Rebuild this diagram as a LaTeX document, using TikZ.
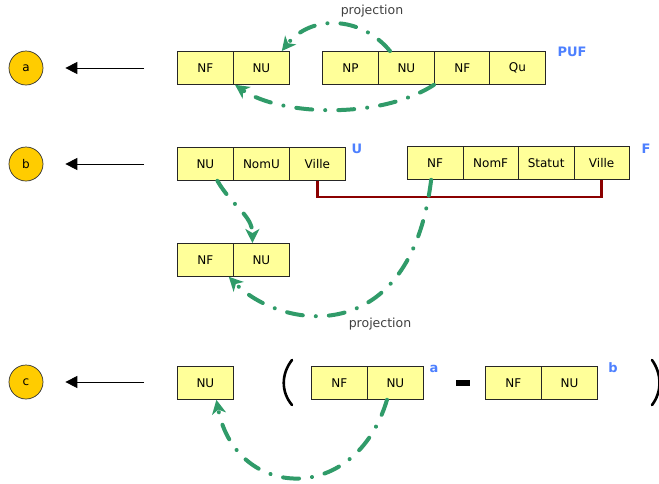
\documentclass[tikz,border=0pt]{standalone}
\usepackage{fontspec}
\setmainfont{DejaVu Sans}
\usetikzlibrary{arrows.meta}
\definecolor{cellyellow}{RGB}{255,255,153}
\definecolor{circgold}{RGB}{255,204,0}
\definecolor{lblblue}{RGB}{77,128,255}
\definecolor{projgreen}{RGB}{48,155,105}
\definecolor{joinred}{RGB}{139,0,0}
\tikzset{
  cell/.style={draw=black!85, line width=0.8pt, fill=cellyellow, minimum width=56pt, minimum height=33pt, inner sep=0pt, anchor=north west, font=\fontsize{12}{14}\selectfont},
  tag/.style={circle, draw=black!80, line width=0.7pt, fill=circgold, minimum size=34pt, inner sep=0pt, font=\fontsize{12}{14}\selectfont},
  lbl/.style={text=lblblue, font=\bfseries\fontsize{13}{15}\selectfont, inner sep=0pt},
  projlbl/.style={text=black!75, font=\fontsize{12.5}{14}\selectfont, inner sep=0pt},
  pointer/.style={line width=0.9pt, -{Triangle[length=12pt,width=12pt]}, shorten >=22pt},
  proj/.style={projgreen, line width=4pt, line cap=round, dash pattern=on 16pt off 13pt on 0.1pt off 13pt, -{Stealth[length=14pt,width=14pt,inset=4pt]}},
  joinline/.style={joinred, line width=2.5pt},
  paren/.style={line width=2.6pt, line cap=round}
}
\begin{document}
\begin{tikzpicture}[x=1pt,y=-1pt]
\useasboundingbox (0,0) rectangle (659,483);
% row a
\node[tag] (ta) at (26,68) {a};
\coordinate (sa) at (144,68);
\draw[pointer] (sa) -- (ta);
\node[cell] (a1) at (177,51) {NF};
\node[cell] (a2) at (233,51) {NU};
\node[cell] (ap) at (322,51) {NP};
\node[cell] (au) at (378,51) {NU};
\node[cell] (af) at (434,51) {NF};
\node[cell] (aq) at (489,51) {Qu};
\node[lbl] (puf) at (572,52) {PUF};
\node[projlbl] (pa) at (372,11) {projection};
\draw[proj] ([xshift=12pt]au.north west) .. controls +(-30,-36) and +(29,-36) .. ([xshift=-8pt]a2.north east);
\draw[proj] (af.south west) .. controls +(-54,35) and +(45,31) .. ([xshift=2pt]a2.south west);
% row b
\node[tag] (tb) at (26,164) {b};
\coordinate (sb) at (144,164);
\draw[pointer] (sb) -- (tb);
\node[cell] (bu) at (177,147) {NU};
\node[cell] (bn) at (233,147) {NomU};
\node[cell] (bv) at (289,147) {Ville};
\node[lbl] (lu) at (357,149) {U};
\node[cell, minimum width=55.5pt] (fnf) at (407,146) {NF};
\node[cell, minimum width=55.5pt] (fn) at (462.5,146) {NomF};
\node[cell, minimum width=55.5pt] (fs) at (518,146) {Statut};
\node[cell, minimum width=55.5pt] (fv) at (573.5,146) {Ville};
\node[lbl] (lf) at (646,149) {F};
\draw[joinline] (bv.south) -- ++(0,16) -| (fv.south);
\node[cell] (l1) at (177,243) {NF};
\node[cell] (l2) at (233,243) {NU};
\node[projlbl] (pb) at (380,324) {projection};
\draw[proj] ([xshift=12pt]bu.south) .. controls +(15,26) and +(0,-28) .. ([xshift=-9pt]l2.north);
\draw[proj] ([xshift=-4pt]fnf.south) .. controls +(-21,171) and +(52,53) .. ([xshift=-5pt]l1.south east);
% row c
\node[tag] (tc) at (26,382) {c};
\coordinate (sc) at (144,382);
\draw[pointer] (sc) -- (tc);
\node[cell] (cnu) at (177,366) {NU};
\node[cell] (ca1) at (311,366) {NF};
\node[cell] (ca2) at (367,366) {NU};
\node[lbl] (la) at (434,369) {a};
\node[cell] (cb1) at (485,366) {NF};
\node[cell] (cb2) at (541,366) {NU};
\node[lbl] (lb) at (613,368) {b};
\fill (456,380) rectangle (470,386);
\draw[paren] (292,360) .. controls (281,374) and (281,392) .. (292,405);
\draw[paren] (652,360) .. controls (662,374) and (662,392) .. (652,405);
\draw[proj] ([xshift=20pt]ca2.south west) .. controls +(-32,107) and +(19,100) .. ([xshift=11pt]cnu.south);
\end{tikzpicture}
\end{document}
